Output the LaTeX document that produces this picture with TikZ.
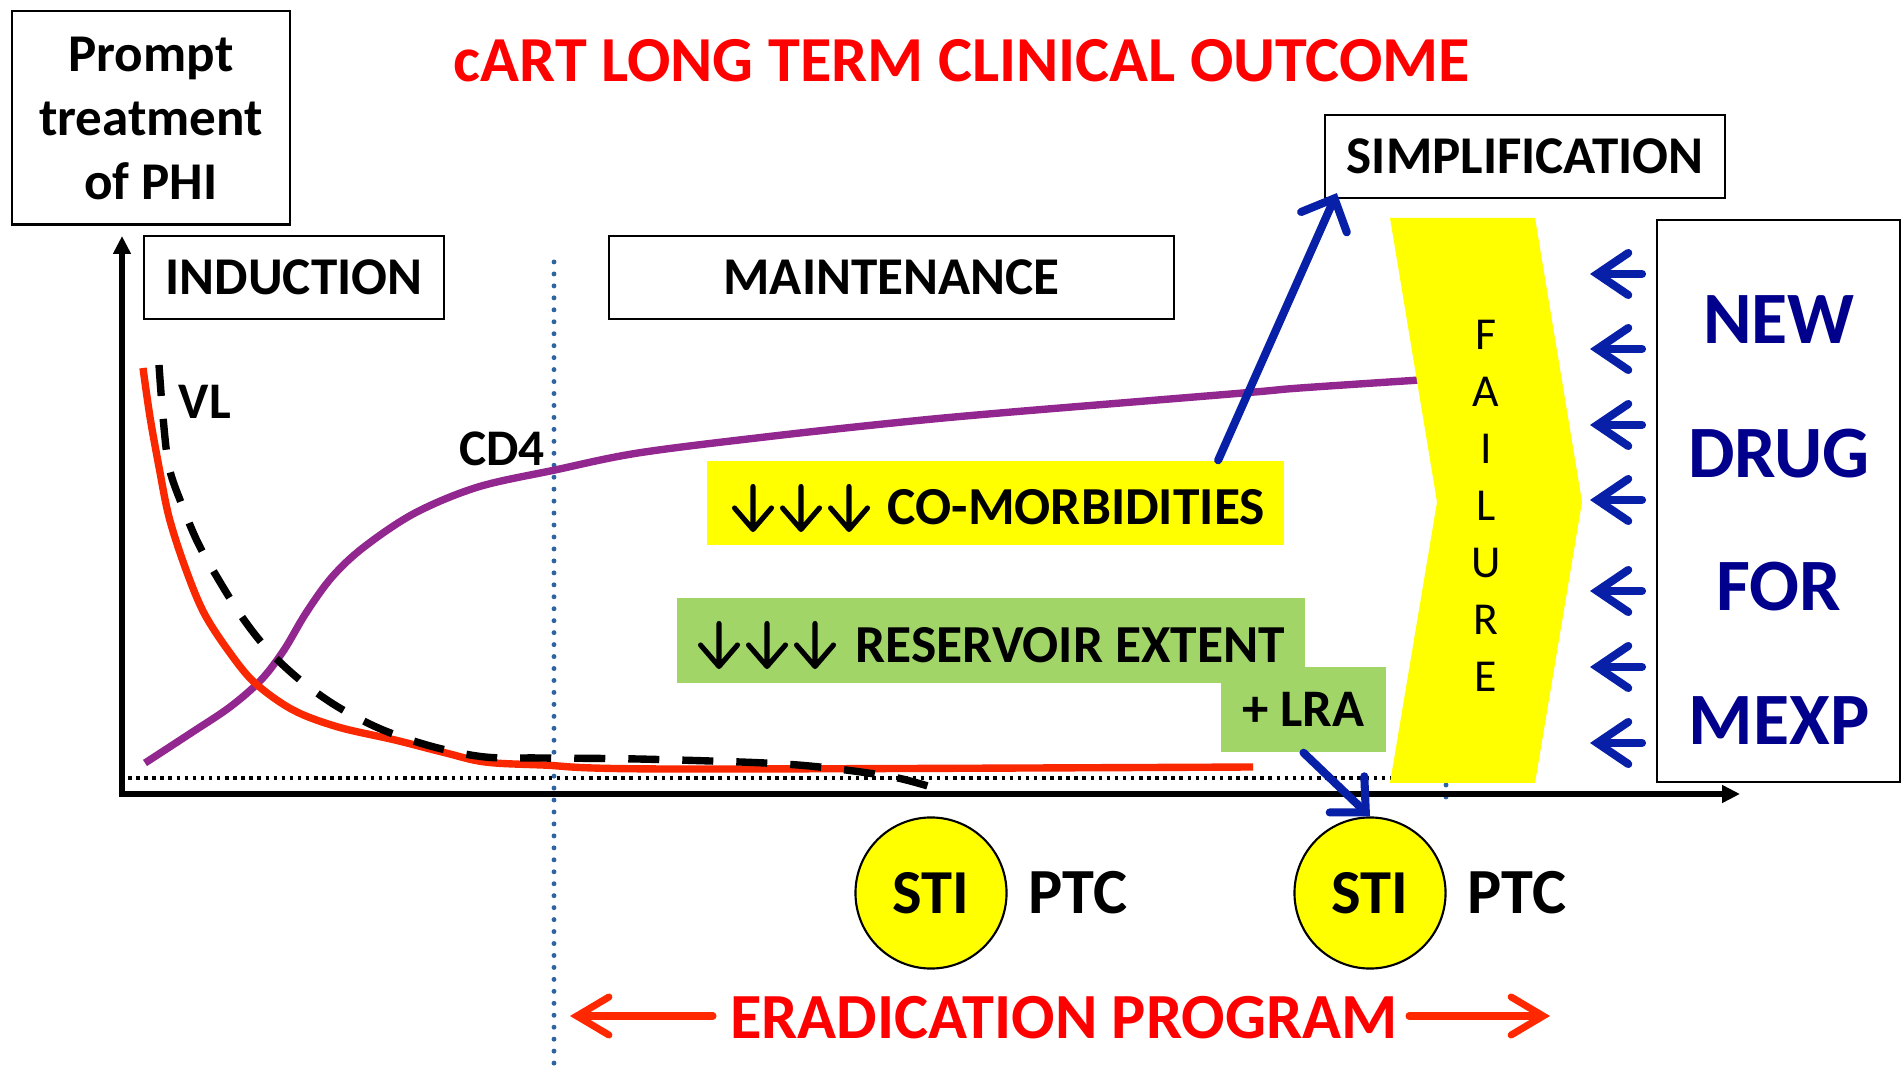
\documentclass[tikz,border=0pt]{standalone}
\usepackage{fontspec}
\setmainfont{Carlito}
\usetikzlibrary{arrows.meta}
\definecolor{titleRed}{RGB}{255,0,0}
\definecolor{vlRed}{RGB}{250,40,0}
\definecolor{arrRed}{RGB}{255,40,0}
\definecolor{cdPurple}{RGB}{146,39,143}
\definecolor{arrBlue}{RGB}{8,32,168}
\definecolor{txtBlue}{RGB}{0,0,140}
\definecolor{dotBlue}{RGB}{46,100,160}
\definecolor{grnBox}{RGB}{161,213,103}
\definecolor{yelFill}{RGB}{255,255,0}
\tikzset{
  framebox/.style={draw=black, line width=0.6pt, inner sep=0pt, align=center},
  lbl/.style={inner sep=0pt, font=\bfseries\fontsize{14.6}{17}\selectfont},
  big/.style={inner sep=0pt, font=\bfseries\fontsize{18.3}{20}\selectfont},
  barrow/.style={draw=arrBlue, line width=2.3pt, line cap=round,
    -{Straight Barb[length=2.6mm,width=5mm,line cap=round]}},
  larrow/.style={draw=arrBlue, line width=2.3pt, line cap=round,
    -{Straight Barb[length=3.1mm,width=4.2mm,line cap=round]}},
  rarrow/.style={draw=arrRed, line width=2pt, line cap=round,
    -{Straight Barb[length=3.2mm,width=3.8mm,line cap=round]}},
  axisline/.style={draw=black, line width=1.6pt, -{Triangle[length=1.8mm,width=1.7mm]}},
  stic/.style={circle, draw=black, line width=0.6pt, fill=yelFill, minimum size=1.51cm,
    inner sep=0pt, font=\bfseries\fontsize{17.8}{20}\selectfont},
  boxfont/.style={font=\bfseries\fontsize{15.1}{17}\selectfont},
  bandtext/.style={inner sep=0pt, anchor=west, font=\bfseries\fontsize{15.2}{17}\selectfont},
  dnarr/.pic={
    \draw[black, line width=1.45pt, line cap=round, line join=round]
      (0,-21.5) -- (0,21) (-18.5,0) -- (0,21.5) -- (18.5,0);
  },
}
\begin{document}
\begin{tikzpicture}[x=0.01cm,y=-0.01cm]
\useasboundingbox (0,0) rectangle (1901,1071);

% title
\node[inner sep=0pt, text=titleRed, font=\bfseries\fontsize{18.25}{22}\selectfont] (title) at (962,61) {cART LONG TERM CLINICAL OUTCOME};

% boxes
\node[framebox, minimum width=2.78cm, minimum height=2.13cm,
  font=\bfseries\fontsize{15.1}{18.2}\selectfont] (prompt) at (151,118) {Prompt\\treatment\\of PHI};
\node[framebox, boxfont, minimum width=3.00cm, minimum height=0.83cm] (induction) at (294,277.5) {INDUCTION};
\node[framebox, boxfont, minimum width=5.65cm, minimum height=0.83cm] (maint) at (891.5,277.5) {MAINTENANCE};
\node[framebox, boxfont, minimum width=4.00cm, minimum height=0.83cm] (simp) at (1525,156.5) {SIMPLIFICATION};
\node[framebox, minimum width=2.43cm, minimum height=5.62cm] (newbox) at (1778.5,501) {};
\node[inner sep=0pt, align=center, text=txtBlue, font=\bfseries\fontsize{21}{38}\selectfont] (newtxt) at (1779,520) {NEW\\DRUG\\FOR\\MEXP};

% blue dotted verticals
\coordinate (vtop) at (554,262);
\coordinate (vbot) at (554,1071);
\draw[dotBlue, line width=1.4pt, line cap=round, dash pattern=on 0pt off 3.4pt] (vtop) -- (vbot);
\coordinate (v2top) at (1446,785);
\coordinate (v2bot) at (1446,800);
\draw[dotBlue, line width=1.4pt, line cap=round, dash pattern=on 0pt off 3.4pt] (v2top) -- (v2bot);

% dotted baseline
\coordinate (dl) at (128,778);
\coordinate (dr) at (1392,778);
\draw[black, line width=1pt, dash pattern=on 1pt off 1.3pt] (dl) -- (dr);

% axes
\coordinate (O) at (122,794);
\coordinate (ytip) at (122,236);
\coordinate (xtip) at (1740,794);
\draw[axisline] (O) -- (ytip);
\draw[axisline] ([xshift=-0.8pt]O) -- (xtip);

% CD4 curve
\draw[cdPurple, line width=2.1pt, line cap=butt] plot[smooth, tension=0.55] coordinates {
 (145,763) (191,733) (230,707) (261,680) (284,650) (306,613) (332,577) (364,547)
 (415,513) (478,487) (555,470) (638,453) (765,437) (893,423) (1000,413) (1243,393) (1300,388) (1420,380)};

% VL red curve
\draw[vlRed, line width=2.1pt] plot[smooth, tension=0.55] coordinates {
 (143,368) (150,417) (159,467) (169,517) (185,567) (204,613) (230,653) (255,683)
 (293,710) (338,727) (395,740) (446,753) (485,762) (542,765) (670,769) (1253,767)};

% VL dashed curve
\draw[black, line width=2.1pt, dash pattern=on 0.31cm off 0.23cm] plot[smooth, tension=0.55] coordinates {
 (159,365) (163,417) (169,467) (182,505) (198,543) (217,577) (242,617) (268,650)
 (300,680) (338,707) (383,730) (434,747) (485,757) (542,758) (638,759) (765,763)
 (829,768) (893,777) (931,787)};

\node[lbl] (vl) at (205,402) {VL};
\node[lbl] (cd4) at (502,449) {CD4};

% failure chevron
\fill[yelFill] (1390,218) -- (1535,218) -- (1582,502) -- (1535,783) -- (1390,783) -- (1437,502) -- cycle;
\node[inner sep=0pt, align=center, font=\fontsize{13}{16.2}\selectfont] (failure) at (1486,506) {F\\A\\I\\L\\U\\R\\E};

% blue left arrows
\foreach \yy [count=\i] in {274,349,425,500,591,667,743}{
  \coordinate (ta\i) at (1642,\yy);
  \coordinate (tb\i) at (1590,\yy);
  \draw[larrow] (ta\i) -- (tb\i);
}

% yellow / green boxes
\node[fill=yelFill, minimum width=5.77cm, minimum height=0.84cm, inner sep=0pt] (comorb) at (995.5,503) {};
\foreach \xx in {753,801,849}{ \pic at (\xx,508) {dnarr}; }
\node[bandtext] (comorbtxt) at (887,507.5) {CO-MORBIDITIES};

\node[fill=grnBox, minimum width=6.28cm, minimum height=0.85cm, inner sep=0pt] (reserv) at (991,640.5) {};
\foreach \xx in {719,767,815}{ \pic at (\xx,645) {dnarr}; }
\node[bandtext] (reservtxt) at (855,645) {RESERVOIR EXTENT};

\node[fill=grnBox, minimum width=1.65cm, minimum height=0.85cm, inner sep=0pt,
  font=\bfseries\fontsize{15}{17}\selectfont] (lra) at (1303.5,709.5) {+ LRA};

% STI circles
\node[stic] (sti1) at (931,893) {STI};
\node[stic] (sti2) at (1370,893) {STI};
\node[big] (ptc1) at (1078,893) {PTC};
\node[big] (ptc2) at (1517,893) {PTC};

% connectors
\draw[barrow] ([xshift=2.225cm]comorb.north) -- ([xshift=0.13cm,yshift=0.06cm]simp.south west);
\draw[barrow] (lra.south) -- (sti2.north);

% eradication program
\node[inner sep=0pt, text=titleRed, font=\bfseries\fontsize{18.3}{20}\selectfont] (erad) at (1064,1018) {ERADICATION PROGRAM};
\coordinate (eLt) at (713,1016);
\coordinate (eL) at (570,1016);
\coordinate (eRt) at (1409,1016);
\coordinate (eR) at (1550,1016);
\draw[rarrow] (eLt) -- (eL);
\draw[rarrow] (eRt) -- (eR);
\end{tikzpicture}
\end{document}
